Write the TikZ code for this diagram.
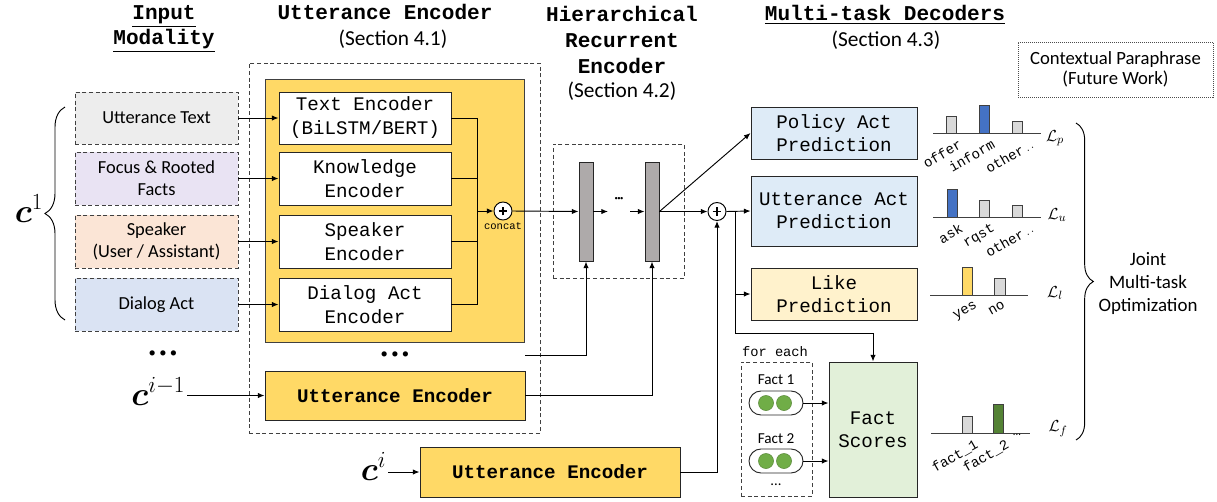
\documentclass[tikz,border=0pt]{standalone}
\usepackage{amsmath,bm}
\usepackage{fontspec}
\setmainfont{Carlito}
\setmonofont{Liberation Mono}
\usetikzlibrary{arrows.meta,decorations.pathreplacing,calc}
\definecolor{ygold}{HTML}{FFD966}
\definecolor{cgray}{HTML}{EDEDED}
\definecolor{clav}{HTML}{E9E3F3}
\definecolor{cpeach}{HTML}{FBE5D6}
\definecolor{cda}{HTML}{DAE3F3}
\definecolor{cdec}{HTML}{DEEBF7}
\definecolor{clike}{HTML}{FFF2CC}
\definecolor{cfact}{HTML}{E2F0D9}
\definecolor{lgray}{HTML}{D9D9D9}
\definecolor{hgray}{HTML}{AEAAAA}
\definecolor{cblue}{HTML}{4472C4}
\definecolor{cgreen}{HTML}{70AD47}
\definecolor{dgreen}{HTML}{548235}
\newcommand{\fsz}[2]{\fontsize{#1}{#2}\selectfont}
% \bx{name}{style}{x1}{y1}{x2}{y2}{text}
\newcommand{\bx}[7]{\node[#2,minimum width={(#5-#3)*0.75pt},minimum height={(#6-#4)*0.75pt}] (#1) at ({(#3+#5)/2},{(#4+#6)/2}) {#7};}
\begin{document}
\begin{tikzpicture}[x=0.75pt,y=-0.75pt,line width=0.7pt,
  arr/.style={-{Latex[length=5pt,width=4pt]}},
  head/.style={font=\ttfamily\bfseries\fsz{15.8}{19.5},align=center,inner sep=0},
  sect/.style={font=\fsz{16}{19},inner sep=0},
  inp/.style={draw=black!75,dash pattern=on 3pt off 2pt,inner sep=0,align=center,font=\fsz{13.8}{16.5}},
  enc/.style={draw=black!85,fill=white,inner sep=0,align=center,font=\ttfamily\fsz{14.4}{18}},
  uenc/.style={draw=black!85,fill=ygold,inner sep=0,font=\ttfamily\bfseries\fsz{14.4}{18}},
  dec/.style={draw=black!85,inner sep=0,align=center,font=\ttfamily\fsz{14.4}{17.5}},
  dbox/.style={draw=black!75,dash pattern=on 3pt off 2pt,inner sep=0},
  hbar/.style={draw=black!85,fill=hgray,inner sep=0},
  bar/.style={draw=black!75,line width=0.6pt},
  lab/.style={font=\ttfamily\fsz{10.5}{11},rotate=30,anchor=north east,inner sep=0},
  loss/.style={font=\fsz{13}{13},inner sep=0},
  mathlbl/.style={inner sep=1pt,font=\fsz{26}{26}},
  pill/.style={draw=black!85,fill=white,rounded corners=9pt,inner sep=0},
  gdot/.style={circle,fill=cgreen,draw=cgreen!80!black,line width=0.4pt,minimum size=11.3pt,inner sep=0},
  oplus/.style={circle,draw,fill=white,minimum size=13.5pt,inner sep=0,
    path picture={\draw[line width=0.8pt] ([xshift=-3.2pt]path picture bounding box.center) -- ([xshift=3.2pt]path picture bounding box.center);
      \draw[line width=0.8pt] ([yshift=-3.2pt]path picture bounding box.center) -- ([yshift=3.2pt]path picture bounding box.center);}}
]
\useasboundingbox (0,0) rectangle (1217,501);

% headings
\node[head,font=\ttfamily\bfseries\fsz{15.8}{18.75}] (hin) at (164,29) {\underline{Input}\\\underline{Modality}};
\node[head] (hue) at (385,12) {Utterance Encoder};
\node[sect] (s41) at (393,39) {(Section 4.1)};
\node[head] (hhre) at (622,40) {Hierarchical\\Recurrent\\Encoder};
\node[sect] (s42) at (622,91) {(Section 4.2)};
\node[head] (hmt) at (885,15) {\underline{Multi-task Decoders}};
\node[sect] (s43) at (886,40) {(Section 4.3)};
\bx{cp}{draw=black!70,dash pattern=on 0.75pt off 0.75pt,inner sep=0,align=center,font=\fsz{14}{15}}{1018}{42}{1213}{97}{Contextual Paraphrase\\(Future Work)}

% input modality
\bx{ut}{inp,fill=cgray}{75}{92}{238}{144}{Utterance Text}
\bx{ff}{inp,fill=clav}{75}{152}{238}{205}{Focus \& Rooted\\Facts}
\bx{sp}{inp,fill=cpeach}{75}{215}{238}{268}{Speaker\\(User / Assistant)}
\bx{da}{inp,fill=cda}{75}{278}{238}{331}{Dialog Act}
\draw[decorate,decoration={brace,amplitude=15pt}] (65,320) -- (65,107);
\node[mathlbl,anchor=base] (c1) at (29,222) {$\bm{c}^{1}$};
\node[font=\fsz{11}{11},inner sep=0] (ldots) at (163,354) {\textbullet\ \textbullet\ \textbullet};

% utterance encoder
\bx{uout}{dbox}{249}{63}{540}{433}{}
\bx{ybox}{draw=black!75,fill=ygold,inner sep=0}{265}{79}{524}{342}{}
\bx{te}{enc}{279}{92}{451}{144}{Text Encoder\\(BiLSTM/BERT)}
\bx{ke}{enc}{279}{152}{451}{205}{Knowledge\\Encoder}
\bx{se}{enc}{279}{215}{451}{268}{Speaker\\Encoder}
\bx{de}{enc}{279}{278}{451}{331}{Dialog Act\\Encoder}
\draw[arr] (ut.east) -- (te.west);
\draw[arr] (ff.east) -- (ke.west);
\draw[arr] (sp.east) -- (se.west);
\draw[arr] (da.east) -- (de.west);
\node[oplus] (cc) at (503,211) {};
\node[font=\ttfamily\fsz{7.9}{8},inner sep=0] (cct) at (503,226) {concat};
\coordinate (bt) at (477,118);
\coordinate (bb) at (477,305);
\draw (te.east) -- (te.east -| bt);
\draw (ke.east) -- (ke.east -| bt);
\draw (se.east) -- (se.east -| bt);
\draw (de.east) -- (de.east -| bt);
\draw (bt) -- (bb);
\draw[arr] (bt |- cc) -- (cc.west);
\node[font=\fsz{11}{11},inner sep=0] (mdotsl) at (395,355) {\textbullet\ \textbullet\ \textbullet};
\coordinate (mdots) at (525,355);
\bx{ue1}{uenc}{265}{371}{525}{420}{Utterance Encoder}
\node[mathlbl,anchor=base east] (cim1) at (187,405) {$\bm{c}^{i-1}$};
\draw[arr] (cim1.east |- ue1.west) -- (ue1.west);
\bx{ue2}{uenc}{420}{447}{680}{497}{Utterance Encoder}
\node[mathlbl,anchor=base east] (ci) at (388,480) {$\bm{c}^{i}$};
\draw[arr] (ci.east |- ue2.west) -- (ue2.west);

% hierarchical recurrent encoder
\bx{hre}{dbox}{553}{144}{684}{278}{}
\bx{b1}{hbar}{579}{162}{593}{261}{}
\bx{b2}{hbar}{645}{162}{659}{261}{}
\draw[arr] (cc.east) -- (b1.west);
\coordinate (d1) at (608,211.5);
\coordinate (d2) at (630,211.5);
\node[font=\fsz{5}{5},inner sep=0] (hdots) at (619,199) {\textbullet\kern-0.5pt\textbullet\kern-0.5pt\textbullet};
\draw[arr] (b1.east) -- (d1);
\draw[arr] (d2) -- (b2.west);
\draw[arr] (mdots) -| (b1.south);
\draw[arr] (ue1.east) -| (b2.south);

% decoders
\bx{pol}{dec,fill=cdec}{751}{107}{917}{159}{Policy Act\\Prediction}
\bx{uap}{dec,fill=cdec}{751}{176}{917}{246}{Utterance Act\\Prediction}
\bx{like}{dec,fill=clike}{751}{268}{917}{320}{Like\\Prediction}
\bx{fs}{dec,fill=cfact}{829}{362}{917}{497}{Fact\\Scores}
\node[oplus] (op2) at (717,211.5) {};
\draw[arr] (b2.east) -- (op2.west);
\draw[arr] (b2.east) -- (pol.west);
\draw[arr] (ue2.east) -| (op2.south);
\draw[arr] (op2.east) -- (uap.west);
\coordinate (br) at (735,211.5);
\coordinate (bd) at (735,333);
\draw[arr] (br |- like.west) -- (like.west);
\draw[arr] (br) -- (bd) -| (fs.north);

% facts
\node[font=\ttfamily\fsz{10.3}{12},inner sep=0] (fe) at (775,352) {for each};
\bx{fbox}{dbox}{741}{362}{812}{496}{}
\node[font=\fsz{11.4}{12},inner sep=0] (f1) at (776,380) {Fact 1};
\bx{p1}{pill}{749}{391}{803}{415}{}
\node[gdot] (g11) at (766,403) {};
\node[gdot] (g12) at (784,403) {};
\node[font=\fsz{11.4}{12},inner sep=0] (f2) at (776,439) {Fact 2};
\bx{p2}{pill}{749}{449}{803}{473}{}
\node[gdot] (g21) at (766,461) {};
\node[gdot] (g22) at (784,461) {};
\node[font=\fsz{11}{11},inner sep=0] (fdots) at (776,485) {...};
\draw[arr] (p1.east) -- (p1.east -| fs.west);
\draw[arr] (p2.east) -- (p2.east -| fs.west);

% charts
\draw[bar] (933,133) -- (1041,133);
\draw[bar,fill=lgray] (946,133) rectangle (956,116);
\draw[bar,fill=cblue] (979,133) rectangle (989,105);
\draw[bar,fill=lgray] (1012,133) rectangle (1022,121);
\node[lab] (lo1) at (958,138) {offer};
\node[lab] (lo2) at (991,138) {inform};
\node[lab] (lo3) at (1030,138) {other{\fsz{6}{6}\,..}};
\node[loss] (lp) at (1055,138) {$\mathcal{L}_p$};

\draw[bar] (933,217) -- (1041,217);
\draw[bar,fill=cblue] (947,217) rectangle (957,189);
\draw[bar,fill=lgray] (979,217) rectangle (989,200);
\draw[bar,fill=lgray] (1012,217) rectangle (1022,205);
\node[lab] (lu1) at (959,222) {ask};
\node[lab] (lu2) at (991,222) {rqst};
\node[lab] (lu3) at (1030,222) {other{\fsz{6}{6}\,..}};
\node[loss] (lu) at (1057,215) {$\mathcal{L}_u$};

\draw[bar] (930,295) -- (1028,295);
\draw[bar,fill=ygold] (962,295) rectangle (972,267);
\draw[bar,fill=lgray] (994,295) rectangle (1005,278);
\node[lab] (ll1) at (974,300) {yes};
\node[lab] (ll2) at (1002,300) {no};
\node[loss] (ll) at (1055,293) {$\mathcal{L}_l$};

\draw[bar] (931,433) -- (1030,433);
\draw[bar,fill=lgray] (962,433) rectangle (972,416);
\draw[bar,fill=dgreen] (993,433) rectangle (1003,404);
\node[lab] (lf1) at (974,438) {fact\_1};
\node[lab] (lf2) at (1005,438) {fact\_2};
\node[font=\fsz{8}{8},inner sep=0] (fcd) at (1017,435) {...};
\node[loss] (lf) at (1058,429) {$\mathcal{L}_f$};

\draw[decorate,decoration={brace,amplitude=13pt}] (1076,123) -- (1076,440);
\node[align=center,font=\fsz{14.2}{17.25},inner sep=0] (joint) at (1148,284) {Joint\\Multi-task\\Optimization};
\end{tikzpicture}
\end{document}
